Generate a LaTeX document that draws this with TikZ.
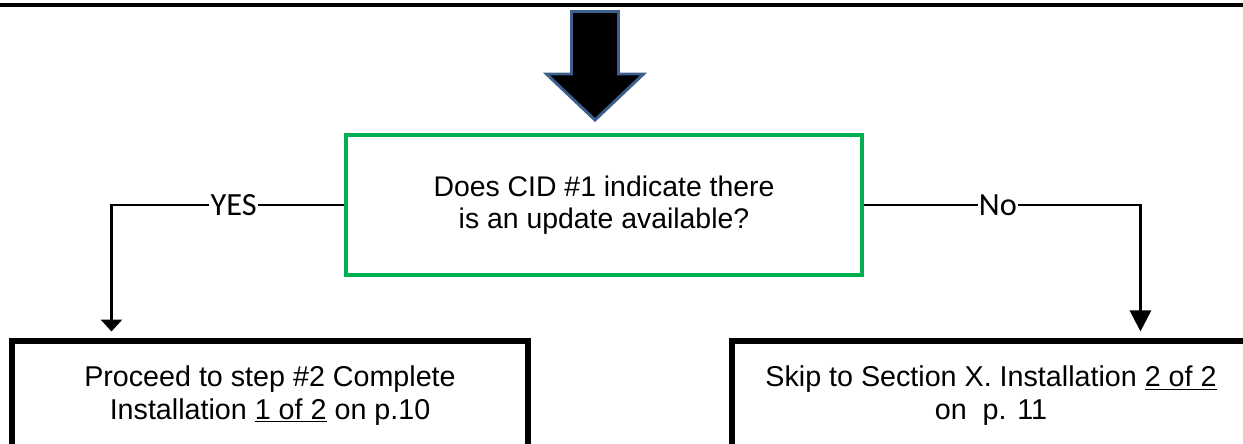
\documentclass[tikz,border=0pt]{standalone}
\usepackage{fontspec}
\setmainfont{Liberation Sans}
\newfontfamily\labelfont{Carlito}
\usetikzlibrary{arrows.meta}
\usetikzlibrary{positioning}
\definecolor{decisiongreen}{HTML}{00B050}
\definecolor{arrowblue}{HTML}{3D5F8C}

\begin{document}
\begin{tikzpicture}[node distance=4.7625cm,
    decisionbox/.style={rectangle, draw=decisiongreen, line width=3pt, minimum width=12.9cm, minimum height=3.5cm, align=center, font=\fontsize{20.2}{23.2}\selectfont},
    stepbox/.style={rectangle, draw, line width=3.6pt, minimum width=12.9cm, minimum height=2.725cm, align=center, font=\fontsize{20.4}{23}\selectfont},
    connector/.style={draw, line width=2pt},
    branchlabel/.style={fill=white, inner sep=1pt, font=\labelfont\fontsize{23}{26}\selectfont}]
            \useasboundingbox (0,0) rectangle (31.075,-11.075);
            \clip (0,0) rectangle (31.075,-11.075);

            % Top rule and incoming arrow
            \draw [line width=2.6pt] (0,-0.125) -- (31.075,-0.125);
            \filldraw [fill=black, draw=arrowblue, line width=2.1pt] (14.2875,-0.2875) -- (15.4625,-0.2875) -- (15.4625,-1.85) -- (16.0875,-1.85) -- (14.875,-3.0) -- (13.6625,-1.85) -- (14.2875,-1.85) -- cycle;

            % Define blocks
            \node [decisionbox] (decision) at (15.1,-5.125) {Does CID \#1 indicate there\\is an update available?};
            \node [stepbox, below of=decision, xshift=-8.35cm] (proceed) {Proceed to step \#2 Complete\\Installation \underline{1 of 2} on p.10};
            \node [stepbox, minimum width=12.95cm, below of=decision, xshift=9.675cm] (skip) {Skip to Section X. Installation \underline{2 of 2}\\on\ \ p. 11};

            % Define arrows
            \draw [connector, -{Triangle[length=8.5pt, width=15pt]}] (decision.west) -| node [branchlabel, pos=0.237] {YES} ([xshift=2.55cm, yshift=0.175cm]proceed.north west);
            \draw [connector, -{Triangle[length=15pt, width=15pt]}] (decision.east) -| node [branchlabel, pos=0.242] {No} ([xshift=10.275cm, yshift=0.175cm]skip.north west);
        \end{tikzpicture}
\end{document}
